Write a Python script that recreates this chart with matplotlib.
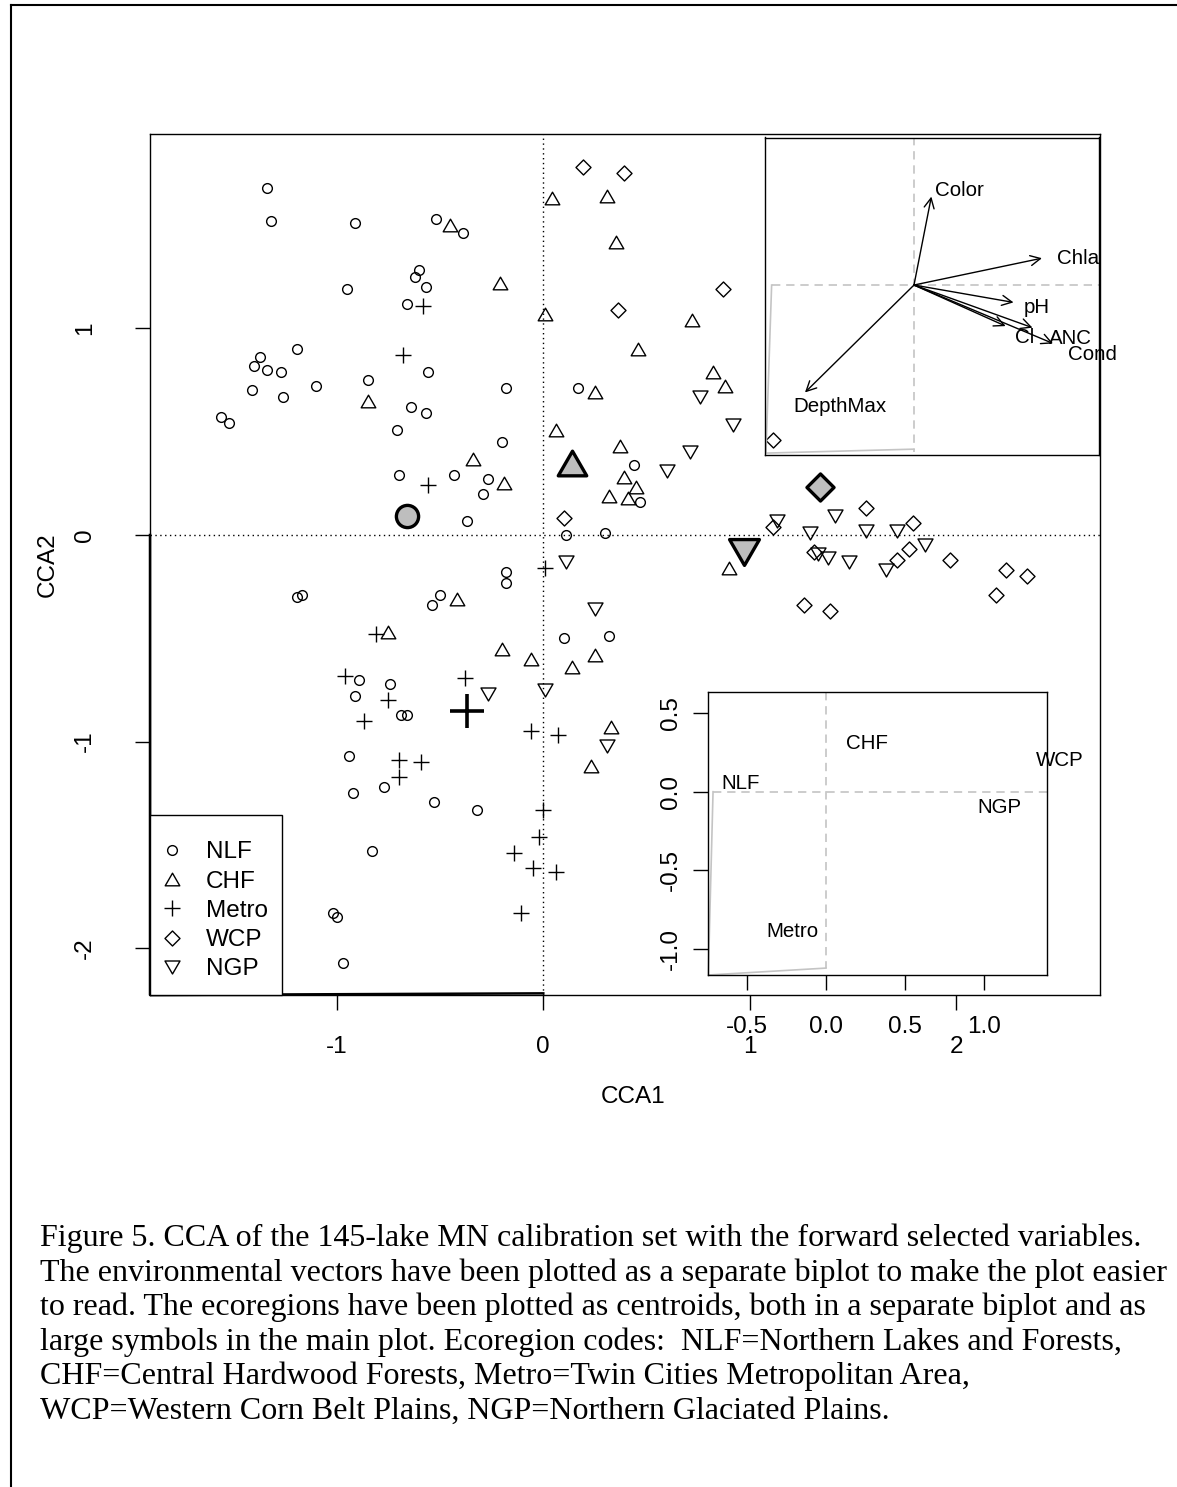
"""CCA biplot of the 145-lake MN calibration set (Figure 5 recreation)."""

import matplotlib
matplotlib.use("Agg")
import matplotlib.pyplot as plt
from matplotlib.path import Path
from matplotlib.lines import Line2D

W, H = 1177, 1487
DPI = 100

# Site scores by ecoregion (CCA1, CCA2)
NLF_X = [-1.34, -1.32, -0.91, -0.52, -0.39, -0.60, -0.62, -0.57, -0.95, -0.66,
         -1.19, -1.37, -1.40, -1.34, -1.27, -1.10, -1.41, -1.26, -0.85, -0.56,
         -0.18, -1.56, -1.52, -0.64, -0.57, -0.71, -0.20, -0.70, -0.43, -0.27,
         -0.29, -0.37, 0.17, 0.44, 0.47, 0.11, 0.30, 0.10, 0.32, -0.18,
         -0.18, -1.19, -1.17, -0.50, -0.54, -0.89, -0.74, -0.91, -0.69, -0.66,
         -0.94, -0.92, -0.77, -0.53, -0.32, -0.83, -1.02, -1.00, -0.97]
NLF_Y = [1.68, 1.52, 1.51, 1.53, 1.46, 1.28, 1.25, 1.20, 1.19, 1.12,
         0.90, 0.86, 0.82, 0.80, 0.79, 0.72, 0.70, 0.67, 0.75, 0.79,
         0.71, 0.57, 0.54, 0.62, 0.59, 0.51, 0.45, 0.29, 0.29, 0.27,
         0.20, 0.07, 0.71, 0.34, 0.16, 0.00, 0.01, -0.50, -0.49, -0.18,
         -0.23, -0.30, -0.29, -0.29, -0.34, -0.70, -0.72, -0.78, -0.87, -0.87,
         -1.07, -1.25, -1.22, -1.29, -1.33, -1.53, -1.83, -1.85, -2.07]

CHF_X = [-0.45, -0.21, 0.01, -0.85, -0.34, -0.19, 0.04, 0.31, 0.35, 0.72,
         0.46, 0.82, 0.88, 0.25, 0.06, 0.37, 0.39, 0.45, 0.32, 0.41,
         0.25, 0.14, 0.90, -0.42, -0.75, -0.20, -0.06, 0.33, 0.23]
CHF_Y = [1.50, 1.22, 1.07, 0.65, 0.37, 0.25, 1.63, 1.64, 1.42, 1.04,
         0.90, 0.79, 0.72, 0.69, 0.51, 0.43, 0.28, 0.23, 0.19, 0.18,
         -0.58, -0.64, -0.16, -0.31, -0.47, -0.55, -0.60, -0.93, -1.12]

METRO_X = [-0.58, -0.68, -0.56, 0.01, -0.81, -0.96, -0.75, -0.87, -0.38, -0.06,
           0.07, -0.70, -0.59, -0.70, 0.00, -0.02, -0.14, -0.05, 0.06, -0.11]
METRO_Y = [1.11, 0.87, 0.24, -0.16, -0.48, -0.68, -0.80, -0.90, -0.69, -0.95,
           -0.97, -1.09, -1.10, -1.17, -1.33, -1.46, -1.54, -1.61, -1.63, -1.83]

WCP_X = [0.19, 0.39, 0.87, 0.36, 1.11, 0.10, 1.56, 1.79, 1.11, 1.31,
         1.77, 1.71, 1.97, 2.24, 2.34, 2.19, 1.26, 1.39]
WCP_Y = [1.78, 1.75, 1.19, 1.09, 0.46, 0.08, 0.13, 0.06, 0.04, -0.08,
         -0.07, -0.12, -0.12, -0.17, -0.20, -0.29, -0.34, -0.37]

NGP_X = [0.76, 0.92, 0.71, 0.60, 1.41, 1.13, 1.29, 1.56, 1.71, 0.11,
         0.25, 0.01, 1.33, 1.38, 1.48, 1.66, 1.85, -0.27, 0.31]
NGP_Y = [0.67, 0.53, 0.40, 0.31, 0.09, 0.07, 0.01, 0.02, 0.02, -0.13,
         -0.36, -0.75, -0.09, -0.11, -0.13, -0.17, -0.05, -0.77, -1.02]

GROUPS = ["NLF", "CHF", "Metro", "WCP", "NGP"]

# Ecoregion centroids as drawn in the main plot
CENT_X = [-0.66, 0.14, -0.37, 1.34, 0.97]
CENT_Y = [0.09, 0.35, -0.85, 0.23, -0.08]

# Centroid biplot inset
INSET_CENT_X = [-0.54, 0.26, -0.21, 1.48, 1.10]
INSET_CENT_Y = [0.05, 0.31, -0.89, 0.20, -0.10]

# Environmental vectors inset
ENV_NAMES = ["Color", "Chla", "pH", "Cl", "ANC", "Cond", "DepthMax"]
ENV_X = [0.11, 0.81, 0.63, 0.58, 0.75, 0.88, -0.69]
ENV_Y = [0.56, 0.17, -0.11, -0.26, -0.27, -0.37, -0.68]
ENV_LAB_X = [0.29, 1.04, 0.78, 0.70, 0.99, 1.13, -0.47]
ENV_LAB_Y = [0.60, 0.17, -0.14, -0.33, -0.34, -0.44, -0.77]

MAIN_XTICKS = [-1, 0, 1, 2]
MAIN_YTICKS = [-2, -1, 0, 1]
INSET_XTICKS = [-0.5, 0.0, 0.5, 1.0]
INSET_YTICKS = [-1.0, -0.5, 0.0, 0.5]

CAPTION = [
    "Figure 5. CCA of the 145-lake MN calibration set with the forward selected variables.",
    "The environmental vectors have been plotted as a separate biplot to make the plot easier",
    "to read. The ecoregions have been plotted as centroids, both in a separate biplot and as",
    "large symbols in the main plot. Ecoregion codes:  NLF=Northern Lakes and Forests,",
    "CHF=Central Hardwood Forests, Metro=Twin Cities Metropolitan Area,",
    "WCP=Western Corn Belt Plains, NGP=Northern Glaciated Plains.",
]

# R-like symbols
TRI_UP = Path([(-1, -0.866), (1, -0.866), (0, 0.866), (-1, -0.866)], closed=True)
TRI_DN = Path([(-1, 0.866), (1, 0.866), (0, -0.866), (-1, 0.866)], closed=True)
DIAMOND = Path([(0, 1), (1, 0), (0, -1), (-1, 0), (0, 1)], closed=True)
MARKERS = ["o", TRI_UP, "+", DIAMOND, TRI_DN]
SMALL_MS = [7.0, 10.5, 11.5, 10.8, 10.8]
BIG_MS = [16.0, 20.5, 24.0, 19.5, 21.5]

GRAY = "#bebebe"
LIGHT = "#c4c4c4"
FS = 17.5
FS_INSET = 14.8


def px_box(left, top, right, bottom):
    return [left / W, 1 - bottom / H, (right - left) / W, (bottom - top) / H]


plt.rcParams["font.family"] = ["Liberation Sans", "DejaVu Sans"]

fig = plt.figure(figsize=(W / DPI, H / DPI), dpi=DPI)

# ---- main ordination plot
ax = fig.add_axes(px_box(150, 134.3, 1100, 995))
ax.set_xlim(-1.904, 2.695)
ax.set_ylim(-2.226, 1.939)

ax.axhline(0, color="black", lw=1, ls=(0, (1, 2.5)), zorder=1)
ax.axvline(0, color="black", lw=1, ls=(0, (1, 2.5)), zorder=1)
ax.plot([-1.904, -1.904, 0.0], [0.0, -2.226, -2.218], color="black", lw=1.8,
        clip_on=False, zorder=1)

series = [(NLF_X, NLF_Y), (CHF_X, CHF_Y), (METRO_X, METRO_Y), (WCP_X, WCP_Y), (NGP_X, NGP_Y)]
for (xs, ys), mk, ms in zip(series, MARKERS, SMALL_MS):
    ax.plot(xs, ys, ls="none", marker=mk, ms=ms, mfc="none", mec="black", mew=1.0, zorder=3)

for cx, cy, mk, ms in zip(CENT_X, CENT_Y, MARKERS, BIG_MS):
    if mk == "+":
        ax.plot(cx, cy, ls="none", marker=mk, ms=ms, mec="black", mew=2.6, zorder=4)
    else:
        ax.plot(cx, cy, ls="none", marker=mk, ms=ms, mfc=GRAY, mec="black", mew=2.4,
                zorder=4)

ax.set_xticks(MAIN_XTICKS)
ax.set_xticklabels([str(t) for t in MAIN_XTICKS])
ax.set_yticks(MAIN_YTICKS)
ax.set_yticklabels([str(t) for t in MAIN_YTICKS], va="center")
ax.tick_params(axis="both", length=10.8, width=1, labelsize=FS, direction="out")
ax.tick_params(axis="x", pad=18.5)
ax.tick_params(axis="y", pad=28, labelrotation=90)
for s in ax.spines.values():
    s.set_linewidth(1.0)

ax.set_xlabel("CCA1", fontsize=FS)
ax.xaxis.set_label_coords((633 - 150) / 950, (995 - 1097) / 860.7)
ax.xaxis.label.set_va("center")
ax.set_ylabel("CCA2", fontsize=FS)
ax.yaxis.set_label_coords((48 - 150) / 950, 0.5)
ax.yaxis.label.set_va("center")

handles = [Line2D([], [], ls="none", marker=mk, ms=ms, mfc="none", mec="black", mew=1.0)
           for mk, ms in zip(MARKERS, SMALL_MS)]
leg = ax.legend(handles, GROUPS, loc="lower left", bbox_to_anchor=(0, 0),
                borderaxespad=0, fancybox=False, edgecolor="black", framealpha=1,
                fontsize=FS, handlelength=0.6, handletextpad=1.1, borderpad=0.6,
                labelspacing=0.30, title=" ", title_fontsize=2)
leg.get_frame().set_linewidth(1.0)

# ---- environmental vectors inset
ax2 = fig.add_axes(px_box(765, 137.5, 1099, 455))
ax2.set_xlim(-0.943, 1.171)
ax2.set_ylim(-1.076, 0.934)
ax2.patch.set_alpha(0)
ax2.set_xticks([])
ax2.set_yticks([])
for s in ax2.spines.values():
    s.set_linewidth(1.0)
ax2.plot([-0.901, 1.171], [0, 0], color=LIGHT, lw=1.2, ls=(0, (5, 3.5)))
ax2.plot([0, 0], [0.934, -1.055], color=LIGHT, lw=1.2, ls=(0, (5, 3.5)))
ax2.plot([-0.901, -0.937, 0.0], [0.0, -1.064, -1.039], color=LIGHT, lw=1.2)
for name, ex, ey, lx, ly in zip(ENV_NAMES, ENV_X, ENV_Y, ENV_LAB_X, ENV_LAB_Y):
    ax2.annotate("", xy=(ex, ey), xytext=(0, 0),
                 arrowprops=dict(arrowstyle="->,head_length=0.6,head_width=0.3",
                                 lw=1.0, color="black", shrinkA=0, shrinkB=0,
                                 mutation_scale=12))
    ax2.text(lx, ly, name, ha="center", va="center", fontsize=FS_INSET, clip_on=False)

# ---- centroid biplot inset
ax3 = fig.add_axes(px_box(708.3, 692.3, 1047.3, 975))
ax3.set_xlim(-0.743, 1.402)
ax3.set_ylim(-1.167, 0.633)
ax3.patch.set_alpha(0)
for s in ax3.spines.values():
    s.set_linewidth(1.0)
ax3.plot([-0.713, 1.402], [0, 0], color=LIGHT, lw=1.2, ls=(0, (5, 3.5)))
ax3.plot([0, 0], [0.633, -1.123], color=LIGHT, lw=1.2, ls=(0, (5, 3.5)))
ax3.plot([-0.713, -0.743, 0.002], [0.0, -1.167, -1.123], color=LIGHT, lw=1.2,
         clip_on=False)
for name, cx, cy in zip(GROUPS, INSET_CENT_X, INSET_CENT_Y):
    ax3.text(cx, cy, name, ha="center", va="center", fontsize=FS_INSET, clip_on=False)
ax3.set_xticks(INSET_XTICKS)
ax3.set_xticklabels([f"{t:.1f}" for t in INSET_XTICKS])
ax3.set_yticks(INSET_YTICKS)
ax3.set_yticklabels([f"{t:.1f}" for t in INSET_YTICKS], va="center")
ax3.tick_params(axis="both", length=10.8, width=1, labelsize=FS, direction="out")
ax3.tick_params(axis="x", pad=18.5)
ax3.tick_params(axis="y", pad=8, labelrotation=90)

# ---- page frame and caption
fig.add_artist(Line2D([11 / W, 11 / W], [0, 1 - 5 / H], color="black", lw=1.5))
fig.add_artist(Line2D([11 / W, 1], [1 - 5 / H, 1 - 5 / H], color="black", lw=1.5))
for i, line in enumerate(CAPTION):
    fig.text(40 / W, 1 - (1246 + 34.6 * i) / H, line, ha="left", va="baseline",
             fontsize=23, family=["Liberation Serif", "DejaVu Serif"])

fig.savefig("out.png", dpi=DPI)
